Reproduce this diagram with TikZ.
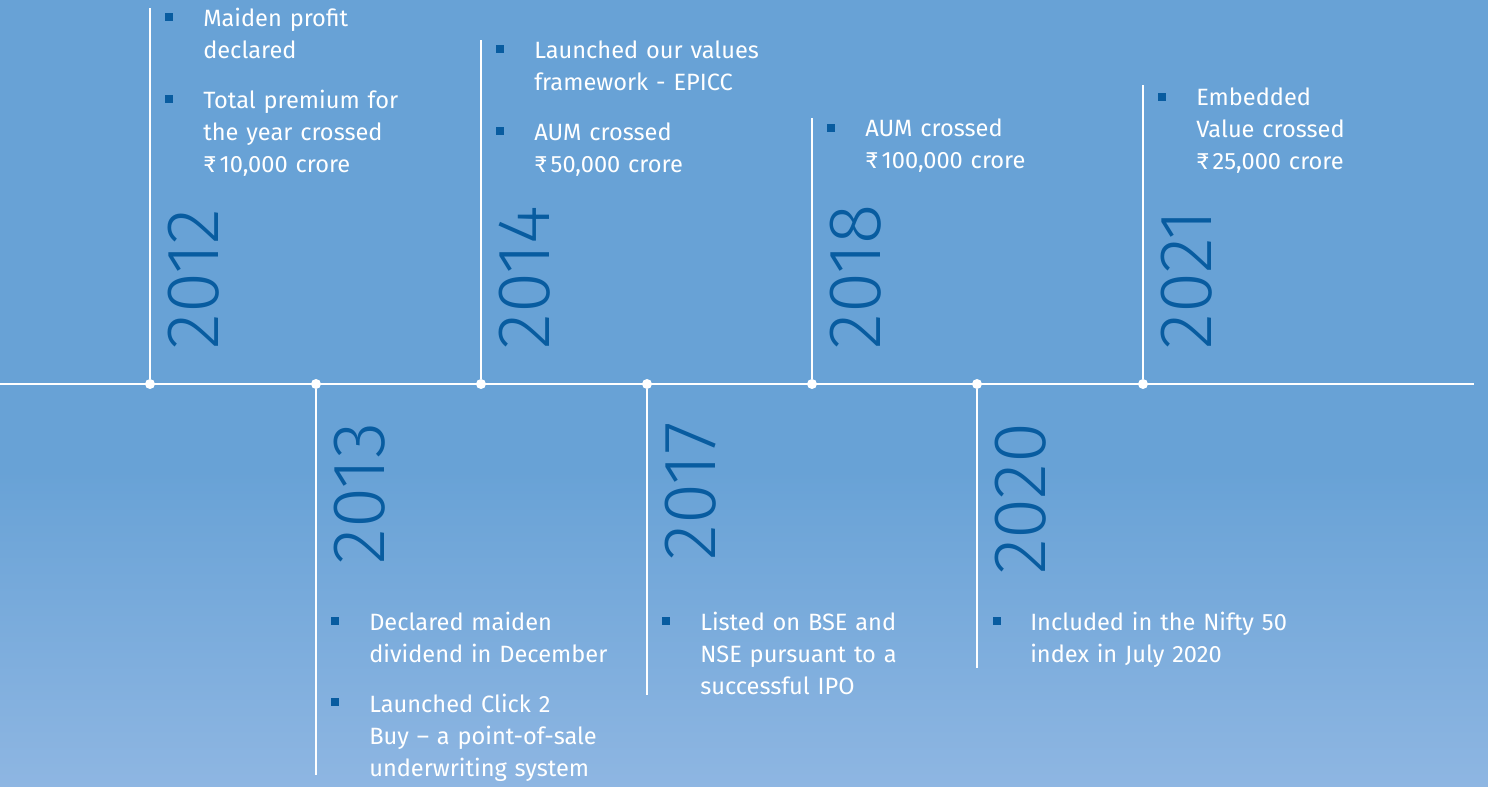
\documentclass[tikz,border=0pt]{standalone}
\usepackage{fontspec}
\setmainfont{Fira Sans}
\IfFontExistsTF{Fira Sans Light}{\newfontfamily\yearfont{Fira Sans Light}}{\newfontfamily\yearfont{Fira Sans}}
\usetikzlibrary{positioning}
\definecolor{skyblue}{RGB}{104,162,214}
\definecolor{skylight}{RGB}{142,182,226}
\definecolor{yearblue}{RGB}{8,92,160}
\tikzset{dot/.style={circle,fill=white,inner sep=0pt,minimum size=7.5pt}}
\tikzset{stem/.style={draw=white,line width=2pt}}
\tikzset{year/.style={font=\yearfont\fontsize{56}{56}\selectfont,text=yearblue,rotate=90,inner sep=0pt}}
\tikzset{bullet/.style={fill=yearblue,inner sep=0pt,minimum size=6pt}}
\tikzset{item/.style={text=white,font=\fontsize{17.7}{24}\selectfont,align=left,text width=260pt,inner sep=0pt,anchor=base west}}

\begin{document}
\begin{tikzpicture}[x=0.75pt,y=-0.75pt]
		\useasboundingbox (0,0) rectangle (1488,787);
		\fill[skyblue] (0,0) rectangle (1488,787);
		\shade[top color=skyblue,bottom color=skylight] (0,470) rectangle (1488,787);

		% timeline
		\coordinate (tstart) at (0,384);
		\coordinate (tend) at (1474,384);
		\draw[stem] (tstart) -- (tend);

		\node[dot](d2012) at (150,384){};
		\node[dot](d2013) at (316,384){};
		\node[dot](d2014) at (481,384){};
		\node[dot](d2017) at (647,384){};
		\node[dot](d2018) at (812,384){};
		\node[dot](d2020) at (977,384){};
		\node[dot](d2021) at (1143,384){};

		\coordinate (e2012) at (150,8);
		\coordinate (e2013) at (316,775);
		\coordinate (e2014) at (481,40);
		\coordinate (e2017) at (647,695);
		\coordinate (e2018) at (812,118);
		\coordinate (e2020) at (977,668);
		\coordinate (e2021) at (1143,85);

		\draw[stem] (d2012) -- (e2012);
		\draw[stem] (d2013) -- (e2013);
		\draw[stem] (d2014) -- (e2014);
		\draw[stem] (d2017) -- (e2017);
		\draw[stem] (d2018) -- (e2018);
		\draw[stem] (d2020) -- (e2020);
		\draw[stem] (d2021) -- (e2021);

		% years
		\node[year,anchor=base west](y2012) at (218,350){2012};
		\node[year,anchor=base west](y2014) at (549,350){2014};
		\node[year,anchor=base west](y2018) at (880,350){2018};
		\node[year,anchor=base west](y2021) at (1211,350){2021};
		\node[year,anchor=base east](y2013) at (384,422){2013};
		\node[year,anchor=base east](y2017) at (715,422){2017};
		\node[year,anchor=base east](y2020) at (1045,422){2020};

		% 2012
		\node[bullet](b2012a) at (169,17){};
		\node[item](i2012a) at (203,27){Maiden profit\\declared};
		\node[bullet](b2012b) at (169,99){};
		\node[item](i2012b) at (203,109){Total premium for\\the year crossed\\₹\,10,000 crore};

		% 2013
		\node[bullet](b2013a) at (335,621){};
		\node[item](i2013a) at (369,630){Declared maiden\\dividend in December};
		\node[bullet](b2013b) at (335,702){};
		\node[item](i2013b) at (369,712){Launched Click 2\\Buy – a point-of-sale\\underwriting system};

		% 2014
		\node[bullet](b2014a) at (500,49){};
		\node[item](i2014a) at (534,59){Launched our values\\framework - EPICC};
		\node[bullet](b2014b) at (500,131){};
		\node[item](i2014b) at (534,141){AUM crossed\\₹\,50,000 crore};

		% 2017
		\node[bullet](b2017) at (666,621){};
		\node[item](i2017) at (700,630){Listed on BSE and\\NSE pursuant to a\\successful IPO};

		% 2018
		\node[bullet](b2018) at (831,128){};
		\node[item](i2018) at (865,137){AUM crossed\\₹\,100,000 crore};

		% 2020
		\node[bullet](b2020) at (997,621){};
		\node[item](i2020) at (1030,630){Included in the Nifty 50\\index in July 2020};

		% 2021
		\node[bullet](b2021) at (1162,97){};
		\node[item](i2021) at (1196,106){Embedded\\Value crossed\\₹\,25,000 crore};
\end{tikzpicture}
\end{document}
